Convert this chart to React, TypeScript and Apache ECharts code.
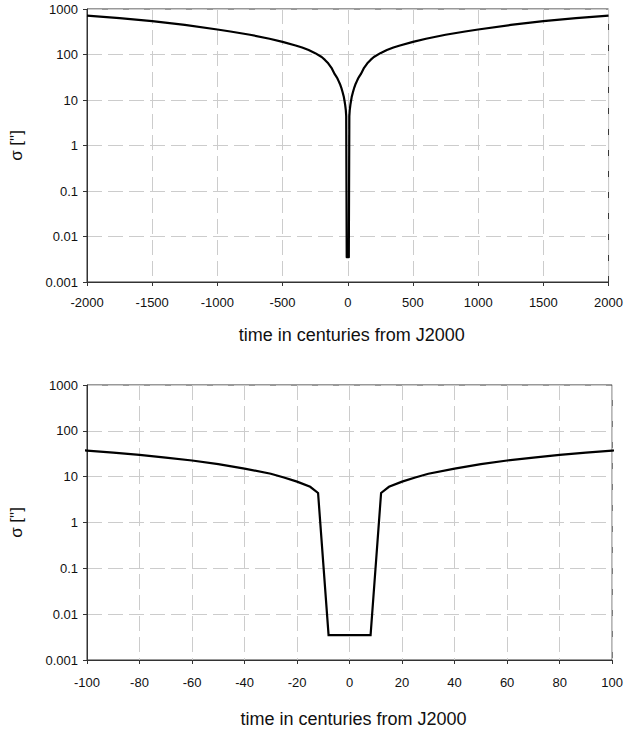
import React, { useEffect, useRef } from "react";
import * as echarts from "echarts";

// time in centuries from J2000
const times = [
  -2000, -1750, -1500, -1250, -1000, -900, -750, -600, -500, -400, -350, -300, -250, -200, -175, -150, -125,
  -100, -90, -80, -70, -60, -50, -40, -30, -25, -20, -15, -12, -8,
  8, 12, 15, 20, 25, 30, 40, 50, 60, 70, 80, 90, 100,
  125, 150, 175, 200, 250, 300, 350, 400, 500, 600, 750, 900, 1000, 1250, 1500, 1750, 2000,
];
// sigma in arcseconds
const sigma = [
  715, 628, 540, 447, 355, 320, 272, 222, 190, 158, 142, 125, 107, 88, 76, 64, 51,
  37, 33.5, 30, 26, 22.5, 18.8, 15, 11.6, 9.6, 7.8, 6.0, 4.4, 0.0035,
  0.0035, 4.4, 6.0, 7.8, 9.6, 11.6, 15, 18.8, 22.5, 26, 30, 33.5, 37,
  51, 64, 76, 88, 107, 125, 142, 158, 190, 222, 272, 320, 355, 447, 540, 628, 715,
];

const yTickLabels = ["0.001", "0.01", "0.1", "1", "10", "100", "1000"];
const xTitle = "time in centuries from J2000";
const yTitle = 'σ ["]';

const FONT = "'Liberation Sans', Arial, Helvetica, sans-serif";
const AXIS_COLOR = "#333";
const GRID_COLOR = "#cccccc";

export default function App() {
  const ref = useRef<HTMLDivElement>(null);
  useEffect(() => {
    if (!ref.current) return;
    const chart = echarts.init(ref.current, undefined, { renderer: "svg" });
    const pts = times.map((t, i) => [t, sigma[i]]);

    const xAxisBase = (min: number, max: number, interval: number, gridIndex: number, margin: number, nameGap: number) => ({
      type: "value",
      gridIndex,
      min,
      max,
      interval,
      name: xTitle,
      nameLocation: "middle",
      nameGap,
      nameTextStyle: { fontFamily: FONT, fontSize: 18, color: "#111", padding: [0, 0, 0, 8] },
      axisLine: { show: true, onZero: false, lineStyle: { color: AXIS_COLOR, width: 1 } },
      axisTick: { show: true, length: 4, lineStyle: { color: AXIS_COLOR } },
      axisLabel: {
        fontFamily: FONT,
        fontSize: 13,
        color: "#111",
        margin,
        showMinLabel: true,
        showMaxLabel: true,
        formatter: (v: number) => String(v),
      },
      splitLine: { show: true, lineStyle: { color: GRID_COLOR, width: 1, type: [15, 6] } },
    });

    const yAxisBase = (gridIndex: number) => ({
      type: "log",
      logBase: 10,
      gridIndex,
      min: 0.001,
      max: 1000,
      name: yTitle,
      nameLocation: "middle",
      nameGap: 62,
      nameRotate: 90,
      nameTextStyle: { fontFamily: FONT, fontSize: 17, color: "#111" },
      axisLine: { show: true, onZero: false, lineStyle: { color: AXIS_COLOR, width: 1 } },
      axisTick: { show: true, length: 4, lineStyle: { color: AXIS_COLOR } },
      axisLabel: {
        fontFamily: FONT,
        fontSize: 13,
        color: "#111",
        margin: 9,
        formatter: (v: number) => yTickLabels[Math.round(Math.log10(v)) + 3] ?? "",
      },
      splitLine: { show: true, lineStyle: { color: GRID_COLOR, width: 1, type: [15, 6] } },
    });

    chart.setOption({
      animation: false,
      backgroundColor: "#ffffff",
      grid: [
        { left: 86, top: 9, right: 17, bottom: 447, show: true, borderColor: AXIS_COLOR, borderWidth: 1, backgroundColor: "transparent" },
        { left: 86, top: 385, right: 11, bottom: 69, show: true, borderColor: AXIS_COLOR, borderWidth: 1, backgroundColor: "transparent" },
      ],
      xAxis: [
        xAxisBase(-2000, 2000, 500, 0, 14, 44),
        xAxisBase(-100, 100, 20, 1, 16, 50),
      ],
      yAxis: [yAxisBase(0), yAxisBase(1)],
      series: [
        {
          type: "line",
          xAxisIndex: 0,
          yAxisIndex: 0,
          data: pts,
          showSymbol: false,
          clip: true,
          lineStyle: { color: "#000", width: 2.2, join: "round" },
        },
        {
          type: "line",
          xAxisIndex: 1,
          yAxisIndex: 1,
          data: pts,
          showSymbol: false,
          clip: true,
          lineStyle: { color: "#000", width: 2.2, join: "miter" },
        },
      ],
    });
    return () => chart.dispose();
  }, []);

  return (
    <div
      ref={ref}
      style={{ position: "fixed", left: 0, top: 0, width: 626, height: 729, background: "#fff" }}
    />
  );
}
